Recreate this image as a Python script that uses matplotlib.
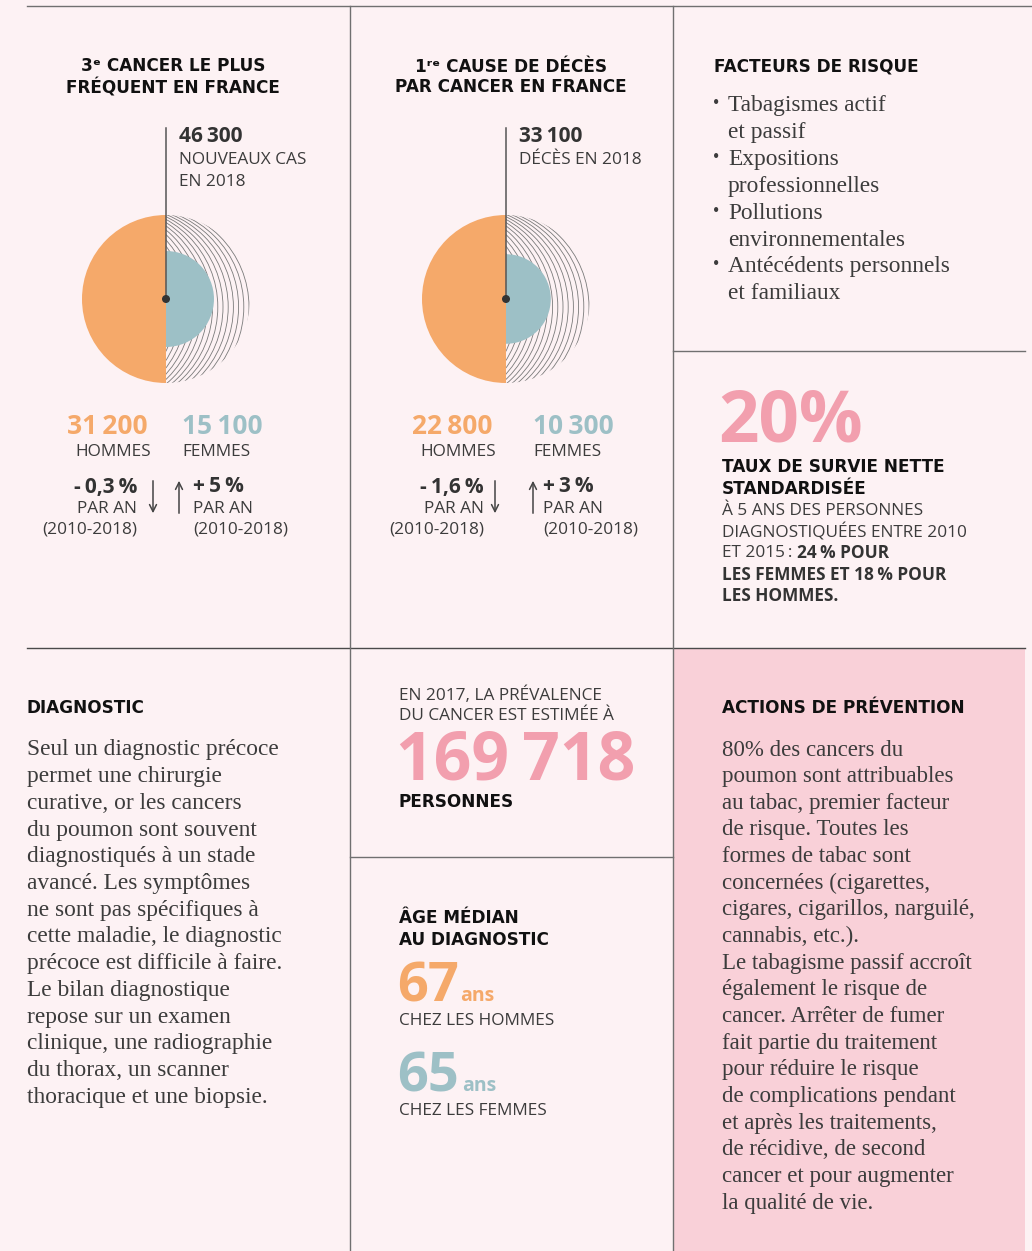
import numpy as np
import matplotlib
matplotlib.use("Agg")
import matplotlib.pyplot as plt
from matplotlib.patches import Wedge, Circle, Rectangle

# ---------------------------------------------------------------
# Data
# ---------------------------------------------------------------
panel_titles = ["3\u1d49 CANCER LE PLUS\nFRÉQUENT EN FRANCE",
                "1\u02b3\u1d49 CAUSE DE DÉCÈS\nPAR CANCER EN FRANCE"]
totals = ["46\u2009300", "33\u2009100"]
total_labels = [["NOUVEAUX CAS", "EN 2018"], ["DÉCÈS EN 2018"]]
men = [31200, 22800]
women = [15100, 10300]
men_trend = ["-\u20090,3\u2009%", "-\u20091,6\u2009%"]
women_trend = ["+\u20095\u2009%", "+\u20093\u2009%"]
trend_period = ["PAR AN", "(2010-2018)"]

risk_factors = [["Tabagismes actif", "et passif"],
                ["Expositions", "professionnelles"],
                ["Pollutions", "environnementales"],
                ["Antécédents personnels", "et familiaux"]]

survival_pct = "20%"
prevalence = "169\u2009718"
age_men = "67"
age_women = "65"

diagnostic_lines = [
    "Seul un diagnostic précoce", "permet une chirurgie", "curative, or les cancers",
    "du poumon sont souvent", "diagnostiqués à un stade", "avancé. Les symptômes",
    "ne sont pas spécifiques à", "cette maladie, le diagnostic",
    "précoce est difficile à faire.", "Le bilan diagnostique", "repose sur un examen",
    "clinique, une radiographie", "du thorax, un scanner", "thoracique et une biopsie.",
]
prevention_lines = [
    "80% des cancers du", "poumon sont attribuables", "au tabac, premier facteur",
    "de risque. Toutes les", "formes de tabac sont", "concernées (cigarettes,",
    "cigares, cigarillos, narguilé,", "cannabis, etc.).", "Le tabagisme passif accroît",
    "également le risque de", "cancer. Arrêter de fumer", "fait partie du traitement",
    "pour réduire le risque", "de complications pendant", "et après les traitements,",
    "de récidive, de second", "cancer et pour augmenter", "la qualité de vie.",
]

# ---------------------------------------------------------------
# Style
# ---------------------------------------------------------------
BG = "#fdf2f4"
PINK_BG = "#f9d0d8"
ORANGE = "#f5a96a"
TEAL = "#9dc0c6"
PINK = "#f29fae"
DARK = "#3c3c3c"
BLACK = "#111111"
LINE = "#707070"
SANS = ["Open Sans", "DejaVu Sans"]
HEAD = ["DejaVu Sans"]
SERIF = ["Liberation Serif", "DejaVu Serif"]
H_SIZE = 12.2   # bold headers
S_SIZE = 12.4   # small caps labels
B_SIZE = 16.8   # serif body

fig = plt.figure(figsize=(10.32, 12.51), dpi=100, facecolor=BG)
ax = fig.add_axes([0, 0, 1, 1])
ax.set_xlim(0, 1032)
ax.set_ylim(1251, 0)
ax.axis("off")
ax.set_facecolor(BG)


def txt(x, y, s, size, color=DARK, weight="normal", family=SANS, ha="left",
        va="center", ls=1.35, **kw):
    return ax.text(x, y, s, fontsize=size, color=color, fontweight=weight,
                   family=family, ha=ha, va=va, linespacing=ls, **kw)


def right_edge(t):
    fig.canvas.draw()
    return t.get_window_extent().transformed(ax.transData.inverted()).x1


# background panel and grid lines
ax.add_patch(Rectangle((673, 648), 352, 603, facecolor=PINK_BG, edgecolor="none", zorder=0))
ax.plot([27, 1032], [6, 6], color=LINE, lw=1)
ax.plot([27, 1025], [648, 648], color="#4a4a4a", lw=1)
ax.plot([350, 350], [6, 1251], color=LINE, lw=1)
ax.plot([673, 673], [6, 1251], color=LINE, lw=1)
ax.plot([673, 1025], [351, 351], color=LINE, lw=1)
ax.plot([350, 673], [857, 857], color=LINE, lw=1)

# ---------------------------------------------------------------
# Two pie panels
# ---------------------------------------------------------------
R = 84
pie_cx = [166, 506]
pie_cy = 299
for i, cx in enumerate(pie_cx):
    title_x = [173, 511][i]
    txt(title_x, 77, panel_titles[i], H_SIZE, BLACK, "bold", family=HEAD, ha="center", ls=1.2)

    # leader line + total
    ax.plot([cx, cx], [128, pie_cy], color="#555555", lw=1.1, zorder=5)
    ax.add_patch(Circle((cx, pie_cy), 3.3, color="#333333", zorder=6))
    txt(cx + 13, 137, totals[i], 15, "#333333", "bold")
    for j, lab in enumerate(total_labels[i]):
        txt(cx + 13, 160 + 22 * j, lab, S_SIZE)

    # men half disc
    ax.add_patch(Wedge((cx, pie_cy), R, 90, 270, facecolor=ORANGE, edgecolor="none", zorder=2))

    # hatched right half: translated arcs clipped to the half disc
    clip = Wedge((cx, pie_cy), R, -90, 90, transform=ax.transData)
    rho = 100
    for shift in np.arange(5.0, rho, 5.2):
        arc = Circle((cx - rho + shift, pie_cy + 8), rho, fill=False,
                     edgecolor="#7a7a7a", lw=0.6, zorder=2)
        ax.add_patch(arc)
        arc.set_clip_path(clip)

    # women half disc (radius from ratio)
    r_w = R * 1.18 * women[i] / men[i]
    ax.add_patch(Wedge((cx, pie_cy), r_w, -90, 90, facecolor=TEAL, edgecolor="none", zorder=3))

    # values
    mx = [107, 452][i]
    wx = [222, 573][i]
    txt(mx, 427, f"{men[i]:,}".replace(",", "\u2009"), 19, ORANGE, "bold", ha="center")
    txt(wx, 427, f"{women[i]:,}".replace(",", "\u2009"), 19, TEAL, "bold", ha="center")
    txt(mx + 6, 452, "HOMMES", S_SIZE, ha="center")
    txt(wx - 40, 452, "FEMMES", S_SIZE)

    # trends
    rx = [137, 484][i]
    lx = [193, 543][i]
    txt(rx, 487, men_trend[i], 15, "#333333", "bold", ha="right")
    txt(lx, 487, women_trend[i], 15, "#333333", "bold")
    for j, lab in enumerate(trend_period):
        txt(rx, 509 + 21 * j, lab, S_SIZE, ha="right")
        txt(lx, 509 + 21 * j, lab, S_SIZE)

    dx = [153, 495][i]
    ux = [179, 533][i]
    arrow = dict(arrowstyle="->,head_length=0.5,head_width=0.25", lw=1.1, color="#444444")
    ax.annotate("", xy=(dx, 516), xytext=(dx, 478), arrowprops=arrow)
    ax.annotate("", xy=(ux, 478), xytext=(ux, 516), arrowprops=arrow)

# ---------------------------------------------------------------
# Facteurs de risque
# ---------------------------------------------------------------
txt(714, 67, "FACTEURS DE RISQUE", H_SIZE, BLACK, "bold", family=HEAD)
k = 0
for item in risk_factors:
    for j, line in enumerate(item):
        y = 106 + 26.8 * k
        if j == 0:
            txt(713, y - 2, "•", 13, DARK, family=SERIF)
        txt(728, y, line, B_SIZE, DARK, family=SERIF)
        k += 1

# ---------------------------------------------------------------
# Survival
# ---------------------------------------------------------------
txt(718, 422, survival_pct, 51, PINK, "bold")
txt(722, 478, "TAUX DE SURVIE NETTE\nSTANDARDISÉE", H_SIZE, BLACK, "bold", family=HEAD, ls=1.25)
txt(722, 511, "À 5 ANS DES PERSONNES", S_SIZE)
txt(722, 532, "DIAGNOSTIQUÉES ENTRE 2010", S_SIZE)
t = txt(722, 553, "ET 2015\u2009: ", S_SIZE)
txt(right_edge(t), 553, "24\u2009% POUR", S_SIZE, "#333333", "bold")
txt(722, 575, "LES FEMMES ET 18\u2009% POUR", S_SIZE, "#333333", "bold")
txt(722, 596, "LES HOMMES.", S_SIZE, "#333333", "bold")

# ---------------------------------------------------------------
# Diagnostic
# ---------------------------------------------------------------
txt(27, 708, "DIAGNOSTIC", H_SIZE, BLACK, "bold", family=HEAD)
for k, line in enumerate(diagnostic_lines):
    txt(27, 750 + 26.7 * k, line, B_SIZE, DARK, family=SERIF)

# ---------------------------------------------------------------
# Prevalence + median age
# ---------------------------------------------------------------
txt(399, 695, "EN 2017, LA PRÉVALENCE", S_SIZE)
txt(399, 716, "DU CANCER EST ESTIMÉE À", S_SIZE)
txt(396, 762, prevalence, 47.5, PINK, "bold")
txt(399, 802, "PERSONNES", H_SIZE, BLACK, "bold", family=HEAD)

txt(399, 929, "ÂGE MÉDIAN\nAU DIAGNOSTIC", H_SIZE, BLACK, "bold", family=HEAD, ls=1.25)
t67 = txt(397, 1001, age_men, 39, ORANGE, "bold", va="baseline")
txt(right_edge(t67) + 1, 1001, "ans", 14, ORANGE, "bold", va="baseline")
txt(399, 1021, "CHEZ LES HOMMES", S_SIZE)
t65 = txt(397, 1091, age_women, 39, TEAL, "bold", va="baseline")
txt(right_edge(t65) + 3, 1091, "ans", 14, TEAL, "bold", va="baseline")
txt(399, 1111, "CHEZ LES FEMMES", S_SIZE)

# ---------------------------------------------------------------
# Actions de prévention
# ---------------------------------------------------------------
txt(722, 708, "ACTIONS DE PRÉVENTION", H_SIZE, BLACK, "bold", family=HEAD)
for k, line in enumerate(prevention_lines):
    txt(722, 750 + 26.65 * k, line, B_SIZE - 0.3, DARK, family=SERIF)

fig.savefig("out.png", dpi=100, facecolor=BG)
